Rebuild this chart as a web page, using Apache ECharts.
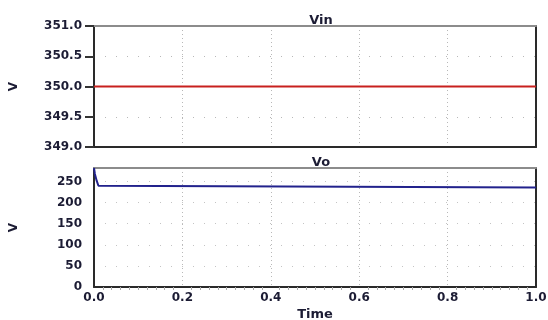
<!DOCTYPE html>
<html>
<head>
<meta charset="utf-8">
<script src="https://cdn.jsdelivr.net/npm/echarts@6/dist/echarts.min.js"></script>
<style>
  html, body { margin: 0; padding: 0; background: #fff; }
  #chart { width: 548px; height: 320px; }
</style>
</head>
<body>
<div id="chart"></div>
<script>
// Simulation traces: input voltage and output voltage against time (s)
const vinTime = [0, 1.0];
const vinValues = [350, 350];

const voTime = [0, 0.002, 0.006, 0.010, 0.014, 1.0];
const voValues = [282, 268, 252, 240, 236, 236];

const vinTicks = [349.0, 349.5, 350.0, 350.5, 351.0];
const voTicks = [0, 50, 100, 150, 200, 250];
const timeTicks = [0.0, 0.2, 0.4, 0.6, 0.8, 1.0];

const titles = ['Vin', 'Vo'];
const xName = 'Time';
const yName = 'V';

const FONT = 'DejaVu Sans';
const TEXT = '#1c1c34';
const labelStyle = { fontFamily: FONT, fontSize: 12, fontWeight: 'bold', color: TEXT };

const chart = echarts.init(document.getElementById('chart'));

const dotted = (color, pattern) => ({ show: true, lineStyle: { color: color, type: pattern, width: 1 } });

function bottomX(grid, showLabels) {
  return {
    type: 'value', gridIndex: grid, min: timeTicks[0], max: timeTicks[timeTicks.length - 1],
    interval: 0.2, position: 'bottom',
    name: showLabels ? xName : '', nameLocation: 'middle', nameGap: 21,
    nameTextStyle: Object.assign({}, labelStyle, { fontSize: 13 }),
    axisLine: { show: true, onZero: false, lineStyle: { color: '#2a2a2a', width: 2 } },
    axisTick: { show: false },
    minorTick: { show: showLabels, splitNumber: 10, length: 3, inside: true, lineStyle: { color: '#aaa' } },
    axisLabel: Object.assign({ show: showLabels, margin: 5, formatter: v => v.toFixed(1) }, labelStyle),
    splitLine: dotted('#b8b8b8', [1, 3])
  };
}
function topX(grid) {
  return {
    type: 'value', gridIndex: grid, min: 0, max: 1, position: 'top',
    axisLine: { show: true, onZero: false, lineStyle: { color: '#8c8c8c', width: 2 } },
    axisTick: { show: false }, axisLabel: { show: false }, splitLine: { show: false }
  };
}
function rightY(grid, min, max) {
  return {
    type: 'value', gridIndex: grid, min: min, max: max, position: 'right',
    axisLine: { show: true, onZero: false, lineStyle: { color: '#2a2a2a', width: 2 } },
    axisTick: { show: false }, axisLabel: { show: false }, splitLine: { show: false }
  };
}

const titleStyle = { fontFamily: FONT, fontSize: 13, fontWeight: 'bold', color: TEXT };

const option = {
  animation: false,
  backgroundColor: '#fff',
  title: [
    { text: titles[0], left: 316, top: 9, textAlign: 'center', textStyle: titleStyle },
    { text: titles[1], left: 316, top: 151, textAlign: 'center', textStyle: titleStyle }
  ],
  grid: [
    { left: 94, top: 26, width: 442, height: 121, containLabel: false, outerBoundsMode: 'none' },
    { left: 94, top: 168, width: 442, height: 119, containLabel: false, outerBoundsMode: 'none' }
  ],
  xAxis: [bottomX(0, false), topX(0), bottomX(1, true), topX(1)],
  yAxis: [
    {
      type: 'value', gridIndex: 0, min: vinTicks[0], max: vinTicks[vinTicks.length - 1], interval: 0.5,
      name: yName, nameLocation: 'middle', nameGap: 74, nameRotate: 90,
      nameTextStyle: labelStyle,
      axisLine: { show: true, onZero: false, lineStyle: { color: '#2a2a2a', width: 2 } },
      axisTick: { show: true, length: 9, lineStyle: { color: '#333', width: 2 } },
      axisLabel: Object.assign({ margin: 12, formatter: v => v.toFixed(1) }, labelStyle),
      splitLine: dotted('#b8b8b8', [1, 10])
    },
    rightY(0, vinTicks[0], vinTicks[vinTicks.length - 1]),
    {
      type: 'value', gridIndex: 1, min: voTicks[0], max: 282, interval: 50,
      name: yName, nameLocation: 'middle', nameGap: 74, nameRotate: 90,
      nameTextStyle: labelStyle,
      axisLine: { show: true, onZero: false, lineStyle: { color: '#2a2a2a', width: 2 } },
      axisTick: { show: false },
      axisLabel: Object.assign({ margin: 12, showMaxLabel: false,
        formatter: v => (voTicks.indexOf(v) >= 0 ? String(v) : '') }, labelStyle),
      splitLine: dotted('#c4c4c4', [1, 10])
    },
    rightY(1, voTicks[0], 282)
  ],
  series: [
    {
      name: titles[0], type: 'line', xAxisIndex: 0, yAxisIndex: 0, showSymbol: false,
      lineStyle: { color: '#c8201e', width: 2 },
      data: vinTime.map((t, i) => [t, vinValues[i]])
    },
    {
      name: titles[1], type: 'line', xAxisIndex: 2, yAxisIndex: 2, showSymbol: false,
      lineStyle: { color: '#22228c', width: 2 },
      data: voTime.map((t, i) => [t, voValues[i]])
    }
  ]
};

chart.setOption(option);
</script>
</body>
</html>
